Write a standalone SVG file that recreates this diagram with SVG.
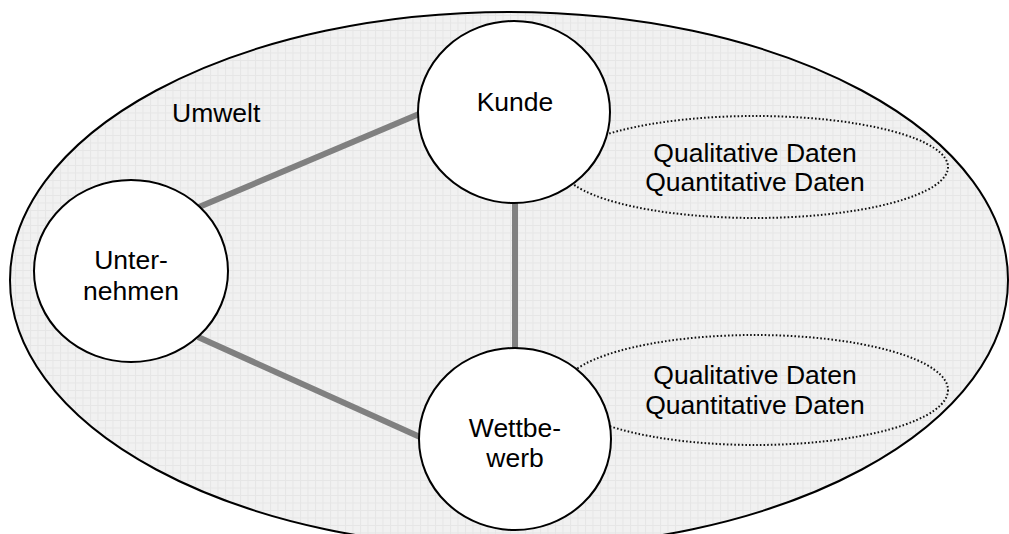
<svg xmlns="http://www.w3.org/2000/svg" width="1009" height="534" viewBox="0 0 1009 534">
  <style>
    .lbl { font-family: "Liberation Sans", Arial, sans-serif; font-size: 26.5px; fill: #000; }
    .mid { text-anchor: middle; }
    .node { fill: #fff; stroke: #000; stroke-width: 2; }
    .link { stroke: #808080; stroke-width: 6; fill: none; }
    .data { fill: none; stroke: #111; stroke-width: 2; stroke-dasharray: 1.6 2.1; }
  </style>
  <defs>
    <pattern id="mesh" width="7.5" height="7.5" patternUnits="userSpaceOnUse">
      <rect width="7.5" height="7.5" fill="#f1f1f1"/>
      <path d="M0 0.5H7.5M0.5 0V7.5" stroke="#e6e6e6" stroke-width="1"/>
    </pattern>
  </defs>

  <rect width="1009" height="534" fill="#fff"/>

  <!-- environment -->
  <g id="umwelt">
    <ellipse cx="509" cy="280" rx="499" ry="268" fill="url(#mesh)" stroke="#000" stroke-width="2"/>
    <text class="lbl" x="172" y="122">Umwelt</text>
  </g>

  <!-- connectors -->
  <g id="connectors">
    <line class="link" x1="199" y1="207" x2="419" y2="114"/>
    <line class="link" x1="198" y1="337" x2="420" y2="437"/>
    <line class="link" x1="515" y1="202" x2="515" y2="349"/>
  </g>

  <!-- data clouds -->
  <g id="daten-kunde">
    <ellipse class="data" cx="755" cy="167" rx="193" ry="51"/>
    <text class="lbl mid" x="755" y="162">Qualitative Daten</text>
    <text class="lbl mid" x="755" y="191">Quantitative Daten</text>
  </g>
  <g id="daten-wettbewerb">
    <ellipse class="data" cx="755" cy="390" rx="193" ry="55"/>
    <text class="lbl mid" x="755" y="384">Qualitative Daten</text>
    <text class="lbl mid" x="755" y="414">Quantitative Daten</text>
  </g>

  <!-- actors -->
  <g id="kunde">
    <ellipse class="node" cx="514" cy="112" rx="96" ry="91"/>
    <text class="lbl mid" x="515" y="111">Kunde</text>
  </g>
  <g id="unternehmen">
    <ellipse class="node" cx="131" cy="271" rx="97" ry="91"/>
    <text class="lbl mid" x="131" y="269">Unter-</text>
    <text class="lbl mid" x="131" y="300">nehmen</text>
  </g>
  <g id="wettbewerb">
    <ellipse class="node" cx="515" cy="439" rx="96" ry="91"/>
    <text class="lbl mid" x="515" y="437">Wettbe-</text>
    <text class="lbl mid" x="515" y="467">werb</text>
  </g>
</svg>
